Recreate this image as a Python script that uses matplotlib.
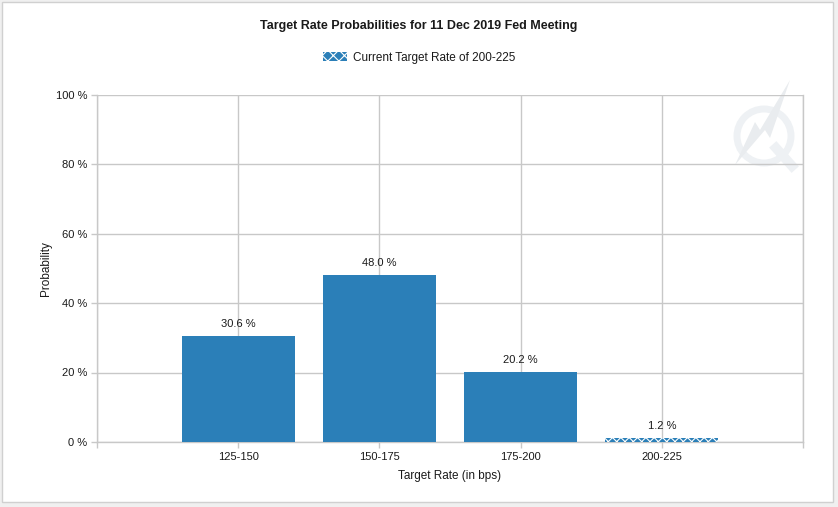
import matplotlib
matplotlib.use("Agg")
import matplotlib.pyplot as plt
from matplotlib.patches import Rectangle, Circle, Polygon
from matplotlib.lines import Line2D

categories = ["125-150", "150-175", "175-200", "200-225"]
probabilities = [30.6, 48.0, 20.2, 1.2]
current_idx = 3
yticks = [0, 20, 40, 60, 80, 100]
title = "Target Rate Probabilities for 11 Dec 2019 Fed Meeting"
legend_label = "Current Target Rate of 200-225"

plt.rcParams['font.family'] = ['Liberation Sans', 'DejaVu Sans']
plt.rcParams['hatch.linewidth'] = 0.8

BLUE = "#2b7fb8"
GRID = "#c8c8c8"
TXT = "#1a1a1a"

fig = plt.figure(figsize=(8.38, 5.07), dpi=100, facecolor="#f0f0f0")
fig.patches.append(Rectangle((2/838, 5/507), 831/838, 500/507, transform=fig.transFigure,
                             facecolor="white", edgecolor="#d0d0d0", lw=1, zorder=-10))

ax = fig.add_axes([97/838, (507-442)/507, (803-97)/838, (442-94.5)/507])
ax.set_facecolor("none")

x = list(range(len(categories)))
for i, (xi, v) in enumerate(zip(x, probabilities)):
    if i == current_idx:
        ax.bar(xi, v, width=0.8, color=BLUE, edgecolor="white", linewidth=0, hatch="xxxx", zorder=3)
    else:
        ax.bar(xi, v, width=0.8, color=BLUE, linewidth=0, zorder=3)
    ax.annotate(f"{v:.1f} %", (xi, v), xytext=(0, 5), textcoords="offset points",
                ha="center", va="bottom", fontsize=8, color=TXT, zorder=4)

ax.set_xlim(-1, len(categories))
ax.set_ylim(0, 100)
ax.set_xticks([-1] + x + [len(categories)])
ax.set_xticklabels([""] + categories + [""], fontsize=8, color=TXT)
ax.set_yticks(yticks)
ax.set_yticklabels([f"{t} %" for t in yticks], fontsize=8, color=TXT)
ax.grid(True, color=GRID, lw=1, zorder=0)
ax.spines["top"].set_visible(False)
for s in ["left", "bottom", "right"]:
    ax.spines[s].set_color(GRID)
    ax.spines[s].set_linewidth(1)
ax.tick_params(axis="both", colors=GRID, labelcolor=TXT, length=4, width=1, pad=3)

ax.set_xlabel("Target Rate (in bps)", fontsize=8.5, color=TXT, labelpad=6)
ax.set_ylabel("Probability", fontsize=8.5, color=TXT, labelpad=3)

fig.text(0.5, (507-26)/507, title, ha="center", va="center", fontsize=9, fontweight="bold", color=TXT)

# legend
lp = Rectangle((0, 0), 1, 1, facecolor=BLUE, edgecolor="white", linewidth=0, hatch="xxx")
leg = fig.legend([lp], [legend_label], loc="center", bbox_to_anchor=(0.5, (507-58)/507),
                 frameon=False, fontsize=8.5, handlelength=2.0, handleheight=0.8, handletextpad=0.5)
for t in leg.get_texts():
    t.set_color(TXT)

# watermark
wm = "#eef1f4"
fig.patches.append(Circle((764, 507-136), 27, transform=None, fill=False, edgecolor=wm, lw=5, zorder=-5))
fig.lines.append(Line2D([776, 792], [507-148, 507-166], transform=None, color=wm, lw=7, zorder=-5))
fig.patches.append(Polygon([(790, 507-80), (760, 507-130), (755, 507-122), (735, 507-165),
                            (765, 507-130), (770, 507-138)], closed=True, transform=None,
                           facecolor="#e9ecef", edgecolor="none", zorder=-4))

fig.savefig("out.png", dpi=100, facecolor=fig.get_facecolor())
